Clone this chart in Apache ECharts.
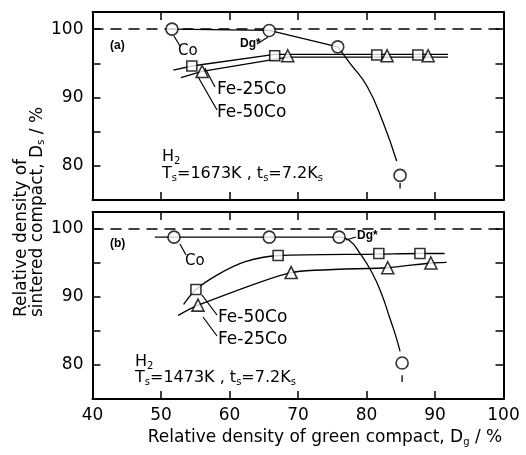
<!DOCTYPE html>
<html>
<head>
<meta charset="utf-8">
<script src="https://cdn.jsdelivr.net/npm/echarts@6/dist/echarts.min.js"></script>
<style>
  html, body { margin: 0; padding: 0; background: #fff; }
  #main { width: 526px; height: 455px; }
</style>
</head>
<body>
<div id="main"></div>
<script>
var myChart = echarts.init(document.getElementById('main'));
var FONT = 'DejaVu Sans';

// x / y ticks
var xTicks = [40, 50, 60, 70, 80, 90, 100];
var yLabels = [80, 90, 100];

// panel (a) Ts=1673K
var coA = [[51.6, 100], [65.8, 99.8], [75.8, 97.4], [84.9, 78.6]];
var coLineA = [[51.6, 100], [65.8, 99.8], [75.8, 97.4]];
var coCurveA = [[75.8, 97.4], [77.6, 95.0], [80.1, 91.6], [82.4, 86.4], [84.4, 80.7]];
var coErrA = [[84.9, 77.5], [84.9, 76.7]];
var sqA = [[54.5, 94.6], [66.6, 96.1], [81.5, 96.2], [87.5, 96.2]];
var sqLineA = [[51.8, 94.0], [54.5, 94.6], [66.6, 96.3], [91.9, 96.3]];
var triA = [[56.0, 93.8], [68.5, 96.1], [83.0, 96.1], [89.0, 96.1]];
var triLineA = [[52.9, 92.9], [56.0, 93.8], [68.5, 95.9], [91.9, 95.9]];

// panel (b) Ts=1473K
var coB = [[51.9, 98.8], [65.8, 98.8], [76.0, 98.8], [85.2, 80.3]];
var coLineB = [[49.1, 98.8], [51.9, 98.8], [65.8, 98.8], [76.0, 98.8]];
var coCurveB = [[76.0, 98.8], [77.5, 98.3], [79.0, 96.5], [80.8, 93.6], [82.3, 90.2], [83.4, 86.9], [84.2, 84.5], [84.9, 82.0]];
var coErrB = [[85.2, 78.5], [85.2, 77.5]];
var sqB = [[55.1, 91.1], [67.1, 96.1], [81.8, 96.4], [87.8, 96.4]];
var sqLineB = [[53.3, 88.9], [55.1, 91.1], [58.3, 93.3], [62.3, 95.2], [67.1, 96.1], [81.8, 96.3], [87.8, 96.4], [91.4, 96.4]];
var triB = [[55.4, 88.8], [69.0, 93.6], [83.1, 94.3], [89.4, 95.0]];
var triLineB = [[52.5, 87.3], [55.4, 88.8], [69.0, 93.6], [83.1, 94.3], [89.4, 95.0], [91.7, 95.1]];

function xAx(grid, pos, labels) {
    return {
        gridIndex: grid, type: 'value', position: pos,
        min: xTicks[0], max: xTicks[xTicks.length - 1], interval: 10,
        axisLine: { show: true, onZero: false, lineStyle: { color: '#000', width: 2 } },
        axisTick: { show: true, inside: true, length: 8, lineStyle: { color: '#000', width: 1.5 } },
        axisLabel: { show: labels, color: '#000', fontSize: 17, fontFamily: FONT, margin: 8 },
        splitLine: { show: false }
    };
}
function yAx(grid, pos, labels) {
    return {
        gridIndex: grid, type: 'value', position: pos,
        min: 75, max: 102.5, interval: 5,
        axisLine: { show: true, onZero: false, lineStyle: { color: '#000', width: 2 } },
        axisTick: { show: true, inside: true, length: 8, lineStyle: { color: '#000', width: 1.5 } },
        axisLabel: {
            show: labels, color: '#000', fontSize: 17, fontFamily: FONT, margin: 9,
            formatter: function (v) { return yLabels.indexOf(v) >= 0 ? String(v) : ''; }
        },
        splitLine: { show: false }
    };
}

function line(data, xi, yi, smooth) {
    return {
        type: 'line', data: data, xAxisIndex: xi, yAxisIndex: yi,
        showSymbol: false, smooth: smooth || false, silent: true, z: 2,
        lineStyle: { color: '#000', width: 1.3 }
    };
}
function marks(data, xi, yi, sym, size) {
    return {
        type: 'scatter', data: data, xAxisIndex: xi, yAxisIndex: yi,
        symbol: sym, symbolSize: size, z: 5, silent: true,
        itemStyle: { color: '#fff', borderColor: '#000', borderWidth: 1.6 }
    };
}
function refLine(xi, yi) {
    return {
        type: 'line', data: [], xAxisIndex: xi, yAxisIndex: yi, silent: true,
        markLine: {
            silent: true, symbol: 'none', label: { show: false },
            lineStyle: { color: '#000', width: 1.5, type: [11, 7] },
            data: [{ yAxis: 100 }]
        }
    };
}

var sub = { fontSize: 10, fontFamily: FONT, color: '#000', verticalAlign: 'bottom' };
function txt(x, y, text, size, extra) {
    var st = {
        text: text, x: 0, y: 0, fill: '#000', font: (size || 16) + 'px "' + FONT + '"',
        textVerticalAlign: 'middle', lineHeight: 18,
        rich: { s: sub }
    };
    if (extra) for (var k in extra) st[k] = extra[k];
    return { type: 'text', x: x, y: y, style: st, silent: true };
}
function seg(x1, y1, x2, y2) {
    return { type: 'line', shape: { x1: x1, y1: y1, x2: x2, y2: y2 }, style: { stroke: '#000', lineWidth: 1.2 }, silent: true };
}

var option = {
    backgroundColor: '#fff',
    animation: false,
    grid: [
        { left: 92.5, right: 22.5, top: 12, height: 188 },
        { left: 92.5, right: 22.5, top: 212, height: 187 }
    ],
    xAxis: [xAx(0, 'bottom', false), xAx(0, 'top', false), xAx(1, 'bottom', true), xAx(1, 'top', false)],
    yAxis: [yAx(0, 'left', true), yAx(0, 'right', false), yAx(1, 'left', true), yAx(1, 'right', false)],
    series: [
        refLine(0, 0),
        line(coLineA, 0, 0), line(coCurveA, 0, 0, 0.5), line(coErrA, 0, 0),
        line(sqLineA, 0, 0), line(triLineA, 0, 0),
        marks(coA, 0, 0, 'circle', 12), marks(sqA, 0, 0, 'rect', 10), marks(triA, 0, 0, 'triangle', 12),

        refLine(2, 2),
        line(coLineB, 2, 2), line(coCurveB, 2, 2, 0.5), line(coErrB, 2, 2),
        line(sqLineB, 2, 2, 0.3), line(triLineB, 2, 2, 0.2),
        marks(coB, 2, 2, 'circle', 12), marks(sqB, 2, 2, 'rect', 10), marks(triB, 2, 2, 'triangle', 12)
    ],
    graphic: [
        // panel (a) annotations
        txt(110, 46, '(a)', 10, { fontWeight: 'bold' }),
        seg(174, 36, 180, 46), txt(178, 51, 'Co', 15),
        txt(240, 44, 'Dg*', 10, { fontWeight: 'bold' }), seg(257, 44, 268, 37),
        seg(205, 68, 215, 87), txt(217, 90, 'Fe-25Co', 17),
        seg(197, 75, 217, 110), txt(217, 113, 'Fe-50Co', 17),
        txt(162, 157, 'H{s|2}', 16),
        txt(162, 174, 'T{s|s}=1673K , t{s|s}=7.2K{s|s}', 16),

        // panel (b) annotations
        txt(110, 244, '(b)', 10, { fontWeight: 'bold' }),
        seg(180, 244, 186, 255), txt(185, 261, 'Co', 15),
        txt(357, 236, 'Dg*', 10, { fontWeight: 'bold' }), seg(356, 237, 346, 240),
        seg(202, 295, 217, 315), txt(218, 318, 'Fe-50Co', 17),
        seg(203, 317, 217, 336), txt(218, 340, 'Fe-25Co', 17),
        txt(135, 362, 'H{s|2}', 16),
        txt(135, 378, 'T{s|s}=1473K , t{s|s}=7.2K{s|s}', 16),

        // axis names
        txt(325, 438, 'Relative density of green compact, D{s|g} / %', 17, { textAlign: 'center' }),
        {
            type: 'text', x: 30, y: 317, rotation: Math.PI / 2, silent: true,
            style: {
                text: 'Relative density of\nsintered compact, D{s|s} / %',
                fill: '#000', font: '17px "' + FONT + '"', textAlign: 'left', textVerticalAlign: 'middle',
                lineHeight: 16, rich: { s: sub }
            }
        }
    ]
};

myChart.setOption(option);
</script>
</body>
</html>
